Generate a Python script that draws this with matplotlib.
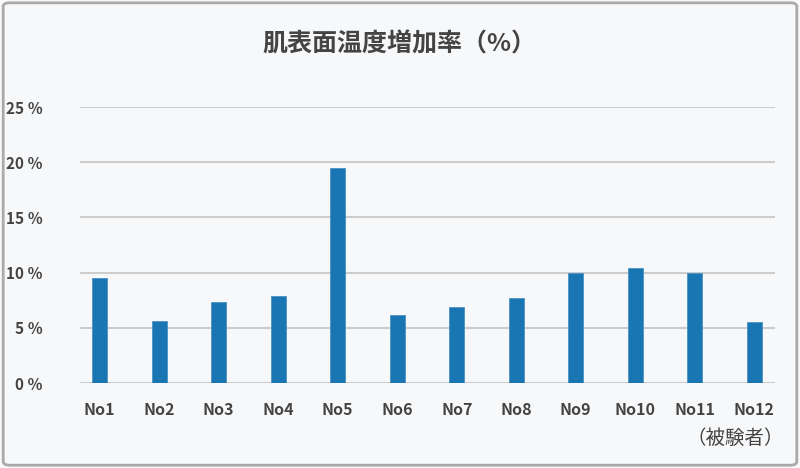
import matplotlib
matplotlib.use('Agg')
import matplotlib.pyplot as plt
import numpy as np
from matplotlib.patches import FancyBboxPatch

plt.rcParams['font.family'] = ['Noto Sans CJK JP', 'DejaVu Sans']

#Data
subjects = ['No1', 'No2', 'No3', 'No4', 'No5', 'No6',
            'No7', 'No8', 'No9', 'No10', 'No11', 'No12']
increase = [9.5, 5.6, 7.3, 7.9, 19.5, 6.2, 6.9, 7.7, 10.0, 10.4, 10.0, 5.5]
yticks = [0, 5, 10, 15, 20, 25]

bgColour = '#f7f8fa'
barColour = '#1a76b2'
textColour = '#444444'

fig = plt.figure(figsize=(8, 4.68), dpi=100)
fig.patch.set_facecolor(bgColour)

#Rounded border around the figure
border = FancyBboxPatch((0.004, 0.006), 0.992, 0.988,
                        boxstyle='round,pad=0,rounding_size=0.008',
                        transform=fig.transFigure, facecolor=bgColour,
                        edgecolor='#aaaaaa', lw=2, zorder=-5)
fig.patches.append(border)

ax = fig.add_axes([0.1, 0.1816, 0.869, 0.5897])
ax.set_facecolor('none')
ax.set_zorder(2)

x = np.arange(len(subjects))
ax.bar(x, increase, width=0.25, color=barColour,
       edgecolor='#4a92c4', lw=0.6, zorder=3)

ax.set_xlim(-0.33, 11.35)
ax.set_ylim(0, 25)

#Gridlines
ax.set_yticks(yticks)
ax.set_yticklabels([f'{v} ％' for v in yticks], fontsize=11,
                   color=textColour, fontweight='bold')
ax.yaxis.grid(True, color='#cccccc', lw=1.5, zorder=0)
ax.set_axisbelow(True)
ax.tick_params(axis='y', length=0, pad=27)
for lab in ax.get_yticklabels():
    lab.set_ha('right')

ax.set_xticks(x)
ax.set_xticklabels(subjects, fontsize=11.5, color=textColour, fontweight='bold')
ax.tick_params(axis='x', length=0, pad=14)

for sp in ax.spines.values():
    sp.set_visible(False)

#Title and x unit label
fig.text(0.499, 0.905, '肌表面温度増加率（%）', ha='center', va='center',
         fontsize=18, fontweight='bold', color=textColour)
fig.text(0.98, 0.064, '（被験者）', ha='right', va='center',
         fontsize=14, color=textColour)

fig.savefig('out.png', dpi=100, facecolor=fig.get_facecolor())
